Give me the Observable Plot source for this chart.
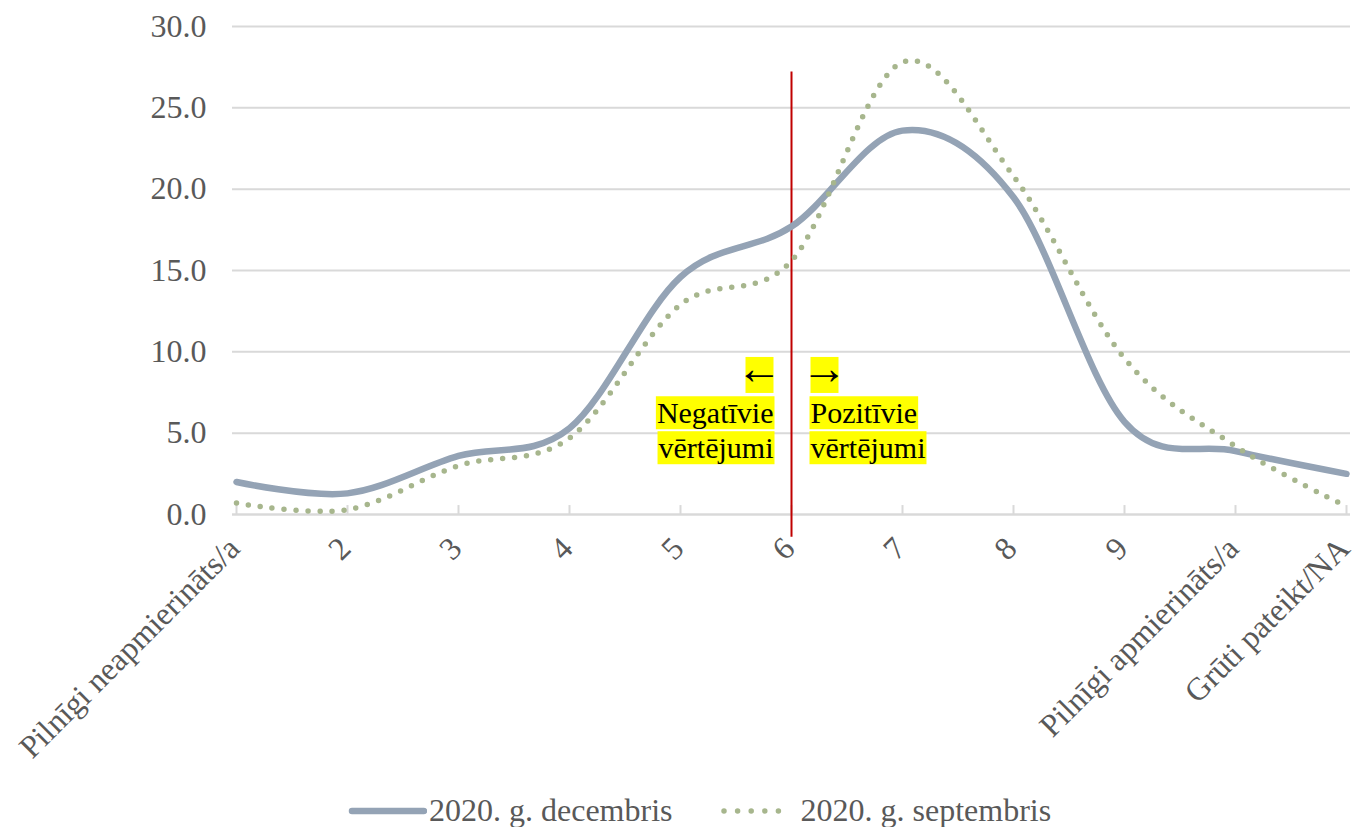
<!DOCTYPE html>
<html><head><meta charset="utf-8">
<script src="https://cdn.jsdelivr.net/npm/d3@7"></script>
<script src="https://cdn.jsdelivr.net/npm/@observablehq/plot@0.6"></script>
<style>
body{margin:0;background:#fff;font-family:"Liberation Serif","Times New Roman",serif;}
#chart svg{display:block;}
#legend{display:flex;align-items:center;height:47px;padding-top:7px;padding-left:347px;font-size:32px;color:#595959;}
#legend .item{display:flex;align-items:center;}
#legend .item + .item{margin-left:46px;}
#legend svg{margin-right:2px;}
</style></head><body>
<div id="chart"></div>
<div id="legend"></div>
<script>
const categories = ["Pilnīgi neapmierināts/a","2","3","4","5","6","7","8","9","Pilnīgi apmierināts/a","Grūti pateikt/NA"];
const decembris = [2.0, 1.3, 3.6, 5.3, 14.6, 17.7, 23.6, 19.5, 5.7, 3.9, 2.5];
const septembris = [0.7, 0.3, 3.0, 4.7, 12.9, 15.6, 27.8, 20.8, 9.6, 4.2, 0.5];
const seriesNames = ["2020. g. decembris", "2020. g. septembris"];
const yTicks = [0, 5, 10, 15, 20, 25, 30];
const dividerCategory = "6";
const leftNote = ["Negatīvie", "vērtējumi"];
const rightNote = ["Pozitīvie", "vērtējumi"];
const arrows = ["←", "→"];

const decRows = categories.map((c, i) => ({cat: c, v: decembris[i]}));
const sepRows = categories.map((c, i) => ({cat: c, v: septembris[i]}));
const noteY = [6.2, 4.05];
const arrowY = 8.5;

const decColor = "#94a3b5", sepColor = "#a7b68d";
const serif = '"Liberation Serif", "Times New Roman", serif';

const chart = Plot.plot({
  width: 1361, height: 780,
  marginLeft: 232, marginRight: 11, marginTop: 26, marginBottom: 266,
  style: {fontFamily: serif, fontSize: "32px", color: "#595959", background: "white", overflow: "visible"},
  x: {type: "point", domain: categories, padding: 0, axis: null},
  y: {domain: [0, 30]},
  marks: [
    Plot.gridY(yTicks, {stroke: "#d9d9d9", strokeOpacity: 1, strokeWidth: 2}),
    Plot.axisY(yTicks, {tickSize: 0, tickPadding: 26, tickFormat: d => d.toFixed(1), fontSize: 32, fill: "#595959", label: null}),
    Plot.ruleY([0], {stroke: "#d9d9d9", strokeWidth: 2}),
    Plot.ruleX(categories, {x: d => d, y1: 0, y2: 0.55, stroke: "#d9d9d9", strokeWidth: 2}),
    Plot.text(categories, {x: d => d, frameAnchor: "bottom", rotate: -45, textAnchor: "end", lineAnchor: "bottom", dx: 5, dy: 36, fontSize: 32, fill: "#595959"}),
    Plot.ruleX([dividerCategory], {x: d => d, y1: -1.4, y2: 27.2, stroke: "#c00000", strokeWidth: 2, clip: false}),
    Plot.line(decRows, {x: "cat", y: "v", curve: "cardinal", tension: 0, stroke: decColor, strokeWidth: 6.5, strokeLinecap: "round"}),
    Plot.line(sepRows, {x: "cat", y: "v", curve: "cardinal", tension: 0, stroke: sepColor, strokeWidth: 5.5, strokeDasharray: "0 12", strokeLinecap: "round"}),
    Plot.text([arrows[0]], {x: () => dividerCategory, y: arrowY, dx: -9, dy: -7, textAnchor: "end", fontSize: 46, fontFamily: '"Liberation Sans"', fill: "black", className: "arrow"}),
    Plot.text([arrows[1]], {x: () => dividerCategory, y: arrowY, dx: 10, dy: -7, textAnchor: "start", fontSize: 46, fontFamily: '"Liberation Sans"', fill: "black", className: "arrow"}),
    Plot.text(leftNote, {x: () => dividerCategory, y: (d, i) => noteY[i], dx: -18, textAnchor: "end", fontSize: 30, fill: "black", className: "note"}),
    Plot.text(rightNote, {x: () => dividerCategory, y: (d, i) => noteY[i], dx: 19, textAnchor: "start", fontSize: 30, fill: "black", className: "note"})
  ]
});
document.getElementById("chart").append(chart);

// yellow highlight boxes behind annotation text
function highlight(sel, px, fixedH, fixedW, offY) {
  chart.querySelectorAll(sel).forEach(t => {
    const bb = t.getBBox();
    const h = fixedH || bb.height;
    const w = fixedW || (bb.width + 2 * px);
    const cy = bb.y + bb.height / 2 + offY;
    const cx = bb.x + bb.width / 2;
    const r = document.createElementNS("http://www.w3.org/2000/svg", "rect");
    r.setAttribute("x", cx - w / 2);
    r.setAttribute("y", cy - h / 2);
    r.setAttribute("width", w);
    r.setAttribute("height", h);
    r.setAttribute("fill", "#ffff00");
    const tr = t.getAttribute("transform");
    if (tr) r.setAttribute("transform", tr);
    t.parentNode.insertBefore(r, t);
  });
}
highlight("g.note text", 1, 0, 0, 0);
highlight("g.arrow text", 0, 36, 28, 7);

// legend
const legend = document.getElementById("legend");
[[seriesNames[0], decColor, 6.5, null, 77], [seriesNames[1], sepColor, 5.5, "0 13.6", 73]].forEach(([name, color, w, dash, x2]) => {
  const item = document.createElement("div");
  item.className = "item";
  item.innerHTML = `<svg width="80" height="12"><line x1="5" x2="${x2}" y1="6" y2="6" stroke="${color}" stroke-width="${w}" stroke-linecap="round" ${dash ? `stroke-dasharray="${dash}"` : ""}/></svg><span>${name}</span>`;
  legend.append(item);
});
</script>
</body></html>
